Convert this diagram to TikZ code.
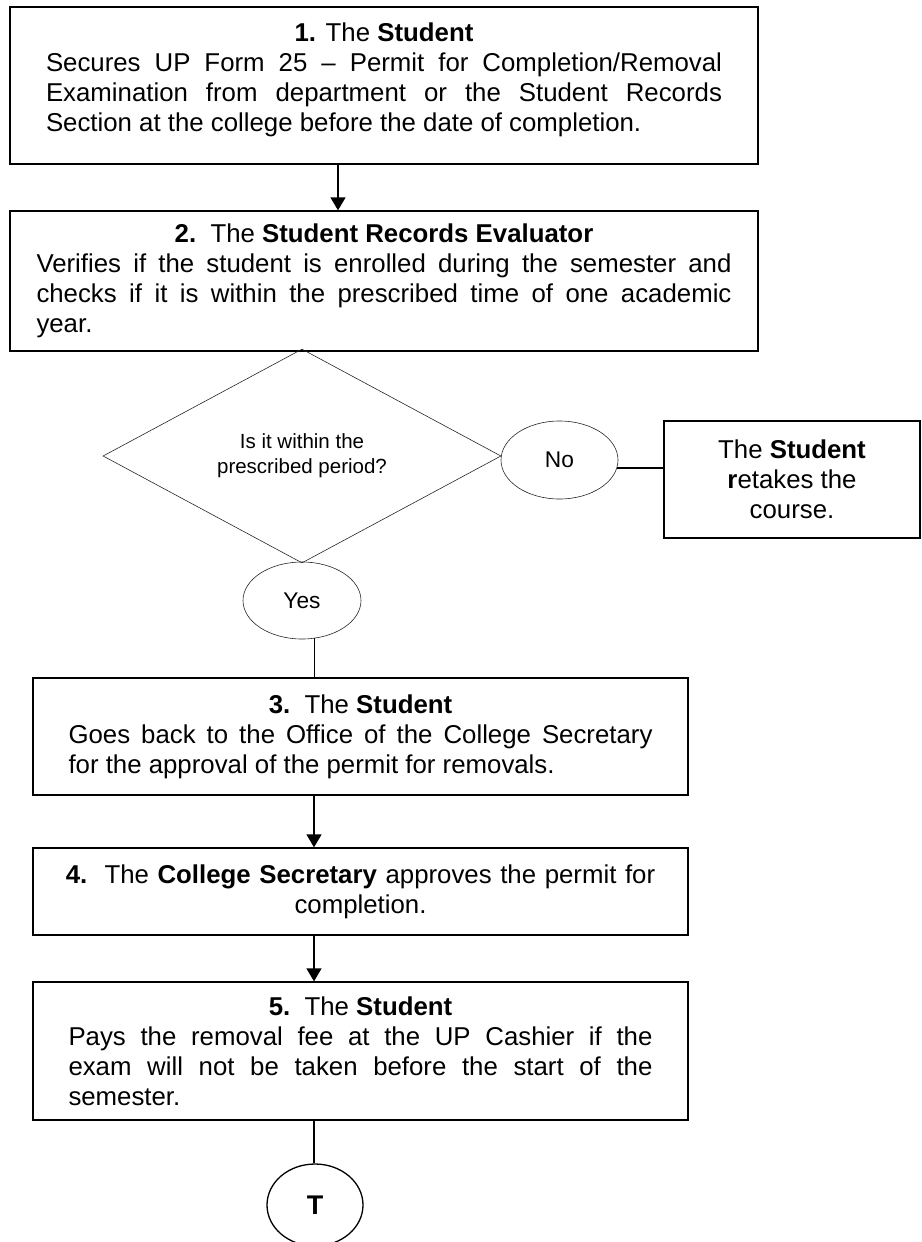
\documentclass[tikz,border=0pt]{standalone}
\usepackage{fontspec}
\setmainfont{Liberation Sans}
\usetikzlibrary{shapes.geometric,arrows.meta}
\setlength{\parindent}{0pt}
\begin{document}
\begin{tikzpicture}[x=1pt,y=-1pt,
  box/.style={draw, line width=1.3pt, rectangle, inner sep=0pt,
    font=\fontsize{25.8}{30}\selectfont},
  thinshape/.style={draw=black!85, line width=0.6pt, inner sep=0pt},
  arr/.style={line width=1.3pt, -{Triangle[width=15pt,length=13pt]}},
  conn/.style={line width=1.3pt},
]
\useasboundingbox (0,0) rectangle (921,1242);

% boxes
\node[box, minimum width=748pt, minimum height=157pt, text width=676pt, align=justify] (b1) at (384,85.5)
 {{\centering\textbf{1.} The \textbf{Student}\par}
  Secures UP Form 25 – Permit for Completion/Removal\linebreak
  Examination from department or the Student Records\linebreak
  Section at the college before the date of completion.\par\nointerlineskip\vbox to 11pt{}};

\node[box, minimum width=748pt, minimum height=140pt, text width=695pt, align=justify] (b2) at (384,281)
 {{\centering\textbf{2.}~~The \textbf{Student Records Evaluator}\par}
  Verifies if the student is enrolled during the semester and\linebreak
  checks if it is within the prescribed time of one academic\linebreak
  year.};

\node[diamond, thinshape, minimum width=398pt, minimum height=210pt, align=center,
  font=\fontsize{20.5}{25}\selectfont] (dec) at (302,456) {Is it within the\\prescribed period?};

\node[ellipse, thinshape, minimum width=117pt, minimum height=78pt,
  font=\fontsize{22.7}{27}\selectfont] (no) at (559.5,460) {No};

\node[box, minimum width=256pt, minimum height=117pt, align=center] (rt) at (792,479.5)
 {The \textbf{Student}\\\textbf{r}etakes the\\course.};

\node[ellipse, thinshape, minimum width=118pt, minimum height=77pt,
  font=\fontsize{22.7}{27}\selectfont] (yes) at (302,600.5) {Yes};

\node[box, minimum width=655pt, minimum height=117pt, text width=584pt, align=justify] (b3) at (360.5,736.5)
 {{\centering\textbf{3.}~~The \textbf{Student}\par}
  Goes back to the Office of the College Secretary\linebreak
  for the approval of the permit for removals.};

\node[box, minimum width=655pt, minimum height=87pt, text width=620pt, align=center] (b4) at (360.5,891.5)
 {\textbf{4.}~~The \textbf{College Secretary} approves the permit for\\completion.};

\node[box, minimum width=655pt, minimum height=138pt, text width=584pt, align=justify] (b5) at (360.5,1051)
 {{\centering\textbf{5.}~~The \textbf{Student}\par}
  Pays the removal fee at the UP Cashier if the\linebreak
  exam will not be taken before the start of the\linebreak
  semester.};

\node[ellipse, draw, line width=1.3pt, inner sep=0pt, minimum width=96pt, minimum height=82pt,
  font=\bfseries\fontsize{27}{32}\selectfont] (term) at (315,1205) {T};

% connectors
\coordinate (xa) at (338,0);
\coordinate (xb) at (314,0);
\draw[arr] (b1.south -| xa) -- (b2.north -| xa);
\draw[conn] (no.-8) -- (rt.west |- no.-8);
\draw[conn] (yes.-72) -- (yes.-72 |- b3.north);
\draw[arr] (b3.south -| xb) -- (b4.north -| xb);
\draw[arr] (b4.south -| xb) -- (b5.north -| xb);
\draw[conn] (b5.south -| xb) -- (term.north -| xb);
\end{tikzpicture}
\end{document}
